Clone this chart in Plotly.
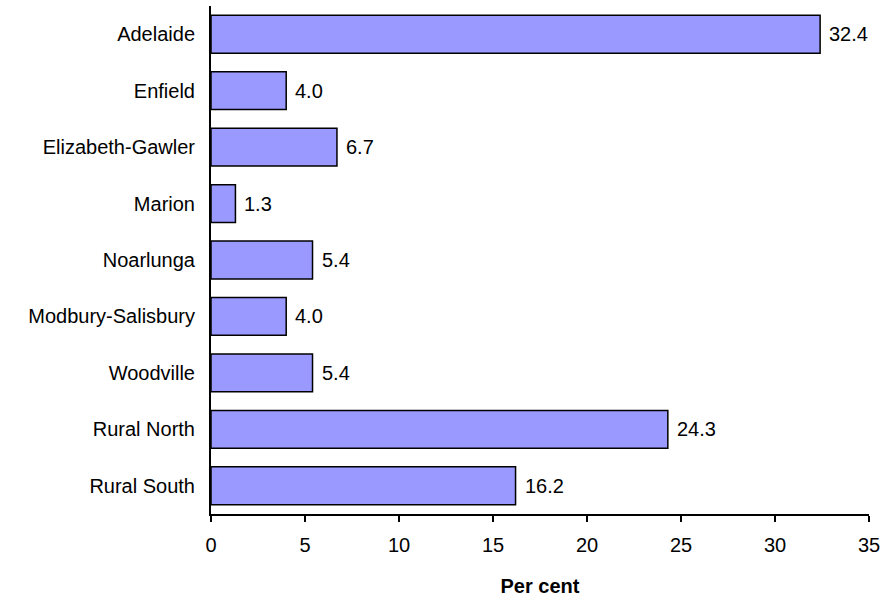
import plotly.graph_objects as go

categories = ["Adelaide", "Enfield", "Elizabeth-Gawler", "Marion", "Noarlunga",
              "Modbury-Salisbury", "Woodville", "Rural North", "Rural South"]
values = [32.4, 4.0, 6.7, 1.3, 5.4, 4.0, 5.4, 24.3, 16.2]
x_ticks = [0, 5, 10, 15, 20, 25, 30, 35]

FONT = "Liberation Sans, Arial, sans-serif"
FS = 20

fig = go.Figure()
fig.add_trace(go.Bar(
    y=categories, x=values, orientation="h",
    marker=dict(color="#9999FF", line=dict(color="black", width=1.5)),
    width=0.67,
    hoverinfo="x+y",
))

for c, v in zip(categories, values):
    fig.add_annotation(x=v, y=c, text=f"{v:.1f}", showarrow=False,
                       xanchor="left", xshift=7,
                       font=dict(family=FONT, size=FS, color="black"))

fig.update_layout(
    width=885, height=604,
    margin=dict(l=211, r=16, t=6, b=90),
    paper_bgcolor="white", plot_bgcolor="white",
    font=dict(family=FONT, size=FS, color="black"),
    showlegend=False,
    xaxis=dict(range=[0, 35], tickvals=x_ticks, ticktext=[str(t) for t in x_ticks],
               showgrid=False, zeroline=False,
               showline=True, linecolor="black", linewidth=2,
               ticks="outside", ticklen=6, tickwidth=1.5, tickcolor="black",
               ticklabelstandoff=6,
               automargin=False,
               title=dict(text="<b>Per cent</b>", font=dict(family=FONT, size=FS), standoff=24)),
    yaxis=dict(autorange="reversed", showgrid=False, zeroline=False,
               showline=True, linecolor="black", linewidth=2,
               automargin=False,
               ticks="", ticklabelstandoff=10),
)

fig.write_html("out.html", config={"displayModeBar": False},
               post_script="document.body.style.margin='0';")
